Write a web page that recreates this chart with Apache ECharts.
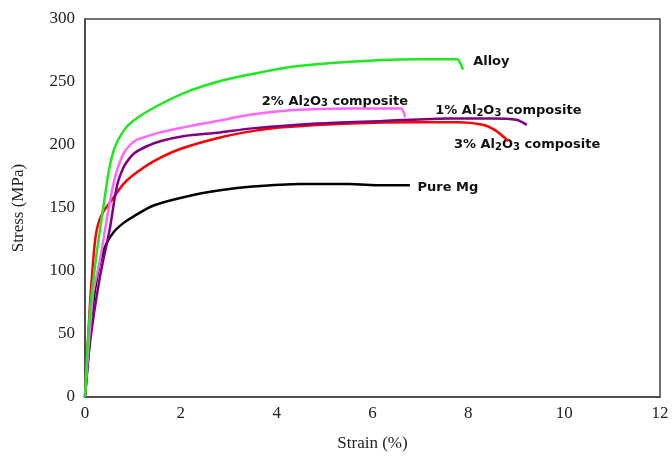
<!DOCTYPE html>
<html lang="en">
<head>
    <meta charset="UTF-8">
    <title>Stress-strain curves</title>
    <style>
        html, body { margin: 0; padding: 0; background: #fff; }
        #myEcharts { width: 672px; height: 457px; }
    </style>
    <script src="https://cdn.jsdelivr.net/npm/echarts@6/dist/echarts.min.js"></script>
</head>
<body>
    <div id="myEcharts"></div>
    <script>
        // [strain %, stress MPa]
        var alloyData = [[0, 0], [0.1, 66], [0.24, 113], [0.38, 150], [0.5, 180], [0.62, 198], [0.8, 211], [1.0, 219],
            [1.36, 228], [2.05, 241], [2.75, 250], [3.44, 256], [4.13, 261], [4.84, 264], [5.53, 266], [6.22, 267.5],
            [6.93, 268], [7.77, 268], [7.83, 265], [7.89, 260]];
        var al2Data = [[0, 0], [0.17, 82], [0.31, 108], [0.45, 140], [0.56, 163], [0.66, 179], [0.8, 193], [0.94, 200],
            [1.08, 204], [1.57, 210], [2.05, 214], [2.75, 219], [3.44, 224], [4.13, 227], [4.84, 228.5], [5.53, 229],
            [6.22, 229], [6.6, 229], [6.65, 226], [6.68, 222]];
        var al1Data = [[0, 0], [0.1, 42], [0.31, 95], [0.52, 134], [0.62, 158], [0.69, 171], [0.8, 182], [0.9, 188],
            [1.05, 194], [1.29, 199], [1.57, 203], [2.05, 207], [2.82, 210], [3.44, 213], [4.84, 217], [6.22, 219],
            [7.62, 221], [8.5, 221], [9.0, 220], [9.22, 216]];
        var al3Data = [[0, 0], [0.1, 71], [0.17, 108], [0.22, 127], [0.28, 138], [0.38, 147], [0.59, 158], [0.8, 169],
            [1.0, 176], [1.43, 187], [2.0, 197], [2.82, 206], [3.5, 211], [4.13, 214], [5.53, 217], [6.93, 218],
            [7.8, 218], [8.3, 216], [8.55, 212], [8.75, 206], [8.83, 203]];
        var pureMgData = [[0, 0], [0.17, 74], [0.26, 97], [0.35, 112], [0.45, 122], [0.6, 131], [0.8, 138], [1.0, 143],
            [1.43, 152], [2.1, 159], [2.82, 164], [3.5, 167], [4.5, 169], [5.5, 169], [6.2, 168], [6.78, 168]];

        // label text and where its left edge sits (strain, stress)
        var labelNames = ['Alloy', '2% Al2O3 composite', '1% Al2O3 composite', '3% Al2O3 composite', 'Pure Mg'];
        var labelPos = [[8.1, 266.5], [3.69, 234.6], [7.31, 227], [7.7, 200], [6.94, 166.5]];

        var seriesData = [alloyData, al2Data, al1Data, al3Data, pureMgData];
        var colors = ['#1EE81E', '#FF66FF', '#800080', '#FF0000', '#000000'];

        // Al2O3 -> rich text with subscripts
        function richName(s) {
            var m = s.match(/^(.*)Al2O3(.*)$/);
            if (!m) return '{a|' + s + '}';
            return '{a|' + m[1] + 'Al}{s|2}{a|O}{s|3}{a|' + m[2] + '}';
        }

        var myChart = echarts.init(document.getElementById('myEcharts'));

        var series = seriesData.map(function (d, i) {
            return {
                name: labelNames[i],
                type: 'line',
                data: d,
                smooth: 0.3,
                showSymbol: false,
                lineStyle: { color: colors[i], width: 2.5 },
                itemStyle: { color: colors[i] },
                z: 10 - i,
                markPoint: {
                    symbol: 'circle',
                    symbolSize: 0,
                    silent: true,
                    data: [{
                        coord: labelPos[i],
                        label: {
                            show: true,
                            position: 'right',
                            distance: 0,
                            formatter: richName(labelNames[i]),
                            rich: {
                                a: { fontFamily: 'DejaVu Sans', fontWeight: 'bold', fontSize: 13, color: '#111' },
                                s: { fontFamily: 'DejaVu Sans', fontWeight: 'bold', fontSize: 10, color: '#111', padding: [5, 0, 0, 0] }
                            }
                        }
                    }]
                }
            };
        });

        var option = {
            animation: false,
            backgroundColor: '#fff',
            grid: {
                left: 85, right: 12, top: 19, bottom: 56,
                show: true, borderColor: '#444', borderWidth: 1.5
            },
            xAxis: {
                type: 'value',
                min: 0, max: 12, interval: 2,
                name: 'Strain (%)',
                nameLocation: 'middle',
                nameGap: 38,
                nameTextStyle: { fontFamily: 'Liberation Serif', fontSize: 17, color: '#222' },
                axisLine: { show: true, lineStyle: { color: '#444', width: 1.5 } },
                axisTick: { show: false },
                splitLine: { show: false },
                axisLabel: { fontFamily: 'Liberation Serif', fontSize: 17, color: '#222', margin: 8 }
            },
            yAxis: {
                type: 'value',
                min: 0, max: 300, interval: 50,
                name: 'Stress (MPa)',
                nameLocation: 'middle',
                nameGap: 58,
                nameTextStyle: { fontFamily: 'Liberation Serif', fontSize: 17, color: '#222' },
                axisLine: { show: true, lineStyle: { color: '#444', width: 1.5 } },
                axisTick: { show: false },
                splitLine: { show: false },
                axisLabel: { fontFamily: 'Liberation Serif', fontSize: 17, color: '#222', margin: 10 }
            },
            series: series
        };

        myChart.setOption(option);
    </script>
</body>
</html>
